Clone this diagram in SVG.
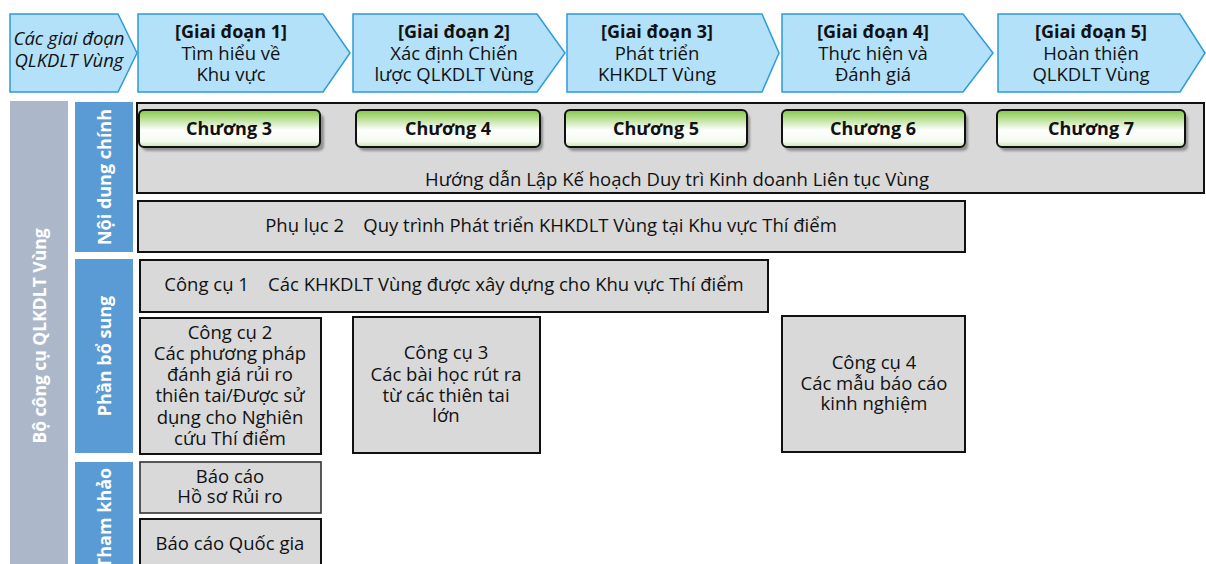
<svg xmlns="http://www.w3.org/2000/svg" width="1206" height="564" viewBox="0 0 1206 564">
<style>
.stage{fill:#b3e1fa;stroke:#2f9bd9;stroke-width:1.5}
.t{font-family:"Open Sans","Noto Sans",sans-serif;font-size:18.5px;fill:#111;text-anchor:middle}
.b{font-weight:bold;font-size:18px}
.vt{font-family:"Open Sans","Noto Sans",sans-serif;font-size:18px;font-weight:bold;fill:#fff;text-anchor:middle}
.box{fill:#d9d9d9;stroke:#111;stroke-width:2}
.btn{fill:url(#g);stroke:#111;stroke-width:2}
.sh{fill:#7a7a7a;opacity:0.75;filter:url(#blur)}
</style>
<defs>
<linearGradient id="g" x1="0" y1="0" x2="0" y2="1">
<stop offset="0" stop-color="#84c846"/>
<stop offset="0.55" stop-color="#ffffff"/>
<stop offset="0.85" stop-color="#f3faee"/>
<stop offset="1" stop-color="#c9e6b0"/>
</linearGradient>
<filter id="blur" x="-10%" y="-30%" width="120%" height="160%"><feGaussianBlur stdDeviation="1.2"/></filter>
</defs>

<g id="header">
<g id="stage0"><polygon class="stage" points="10,14 118,14 137,53 118,92 10,92"/>
<text class="t" font-style="italic" x="69" y="45">Các giai đoạn</text>
<text class="t" font-style="italic" x="69" y="67">QLKDLT Vùng</text></g>
<g id="stage1"><polygon class="stage" points="138,14 323,14 350,53 323,92 138,92"/>
<text class="t b" x="231" y="38">[Giai đoạn 1]</text>
<text class="t" x="231" y="60">Tìm hiểu về</text>
<text class="t" x="231" y="81">Khu vực</text></g>
<g id="stage2"><polygon class="stage" points="353,14 537,14 565,53 537,92 353,92"/>
<text class="t b" x="454" y="38">[Giai đoạn 2]</text>
<text class="t" x="454" y="60">Xác định Chiến</text>
<text class="t" x="454" y="81">lược QLKDLT Vùng</text></g>
<g id="stage3"><polygon class="stage" points="567,14 762,14 779,53 762,92 567,92"/>
<text class="t b" x="657" y="38">[Giai đoạn 3]</text>
<text class="t" x="657" y="60">Phát triển</text>
<text class="t" x="657" y="81">KHKDLT Vùng</text></g>
<g id="stage4"><polygon class="stage" points="782,14 963,14 993,53 963,92 782,92"/>
<text class="t b" x="873" y="38">[Giai đoạn 4]</text>
<text class="t" x="873" y="60">Thực hiện và</text>
<text class="t" x="873" y="81">Đánh giá</text></g>
<g id="stage5"><polygon class="stage" points="998,14 1180,14 1205,53 1180,92 998,92"/>
<text class="t b" x="1091" y="38">[Giai đoạn 5]</text>
<text class="t" x="1091" y="60">Hoàn thiện</text>
<text class="t" x="1091" y="81">QLKDLT Vùng</text></g>
</g>

<g id="sidebar">
<rect x="10" y="101" width="58" height="463" fill="#acb8c9"/>
<text class="vt" style="font-size:17.5px" transform="translate(46,336) rotate(-90)">Bộ công cụ QLKDLT Vùng</text>
</g>
<g id="cat-main">
<rect x="75" y="102" width="58" height="150" fill="#5b9bd5"/>
<text class="vt" transform="translate(111,177) rotate(-90)">Nội dung chính</text>
</g>
<g id="cat-supp">
<rect x="75" y="259" width="58" height="194" fill="#5b9bd5"/>
<text class="vt" transform="translate(111,356) rotate(-90)">Phần bổ sung</text>
</g>
<g id="cat-ref">
<rect x="75" y="462" width="58" height="102" fill="#5b9bd5"/>
<text class="vt" transform="translate(111,518) rotate(-90)">Tham khảo</text>
</g>

<g id="guide">
<rect class="box" x="137" y="103" width="1067" height="90"/>
<text class="t" x="677" y="186">Hướng dẫn Lập Kế hoạch Duy trì Kinh doanh Liên tục Vùng</text>
</g>
<g id="ch3"><rect class="sh" x="142" y="114" width="182" height="37" rx="5"/><rect class="btn" x="139" y="110" width="181" height="37" rx="5"/><text class="t b" x="229" y="135">Chương 3</text></g>
<g id="ch4"><rect class="sh" x="359" y="114" width="184" height="37" rx="5"/><rect class="btn" x="356" y="110" width="184" height="37" rx="5"/><text class="t b" x="448" y="135">Chương 4</text></g>
<g id="ch5"><rect class="sh" x="568" y="114" width="182" height="37" rx="5"/><rect class="btn" x="565" y="110" width="182" height="37" rx="5"/><text class="t b" x="656" y="135">Chương 5</text></g>
<g id="ch6"><rect class="sh" x="785" y="114" width="183" height="37" rx="5"/><rect class="btn" x="782" y="110" width="183" height="37" rx="5"/><text class="t b" x="873" y="135">Chương 6</text></g>
<g id="ch7"><rect class="sh" x="1000" y="114" width="188" height="37" rx="5"/><rect class="btn" x="997" y="110" width="188" height="37" rx="5"/><text class="t b" x="1091" y="135">Chương 7</text></g>

<g id="appendix2"><rect class="box" x="138" y="201" width="827" height="51"/>
<text class="t" x="551" y="232" xml:space="preserve">Phụ lục 2    Quy trình Phát triển KHKDLT Vùng tại Khu vực Thí điểm</text></g>
<g id="tool1"><rect class="box" x="140" y="260" width="628" height="52"/>
<text class="t" x="454" y="291" xml:space="preserve">Công cụ 1    Các KHKDLT Vùng được xây dựng cho Khu vực Thí điểm</text></g>
<g id="tool2"><rect class="box" x="140" y="318" width="181" height="136"/>
<text class="t" x="230" y="339">Công cụ 2</text>
<text class="t" x="230" y="360">Các phương pháp</text>
<text class="t" x="230" y="381">đánh giá rủi ro</text>
<text class="t" x="230" y="402">thiên tai/Được sử</text>
<text class="t" x="230" y="424">dụng cho Nghiên</text>
<text class="t" x="230" y="445">cứu Thí điểm</text></g>
<g id="tool3"><rect class="box" x="353" y="317" width="187" height="136"/>
<text class="t" x="446" y="359">Công cụ 3</text>
<text class="t" x="446" y="381">Các bài học rút ra</text>
<text class="t" x="446" y="402">từ các thiên tai</text>
<text class="t" x="446" y="422">lớn</text></g>
<g id="tool4"><rect class="box" x="782" y="316" width="183" height="136"/>
<text class="t" x="874" y="369">Công cụ 4</text>
<text class="t" x="874" y="390">Các mẫu báo cáo</text>
<text class="t" x="874" y="410">kinh nghiệm</text></g>
<g id="ref1"><rect class="box" x="140" y="462" width="181" height="51" style="stroke:#333;stroke-width:1.6"/>
<text class="t" x="230" y="483">Báo cáo</text>
<text class="t" x="230" y="503">Hồ sơ Rủi ro</text></g>
<g id="ref2"><rect class="box" x="140" y="519" width="181" height="50"/>
<text class="t" x="230" y="550">Báo cáo Quốc gia</text></g>
</svg>
